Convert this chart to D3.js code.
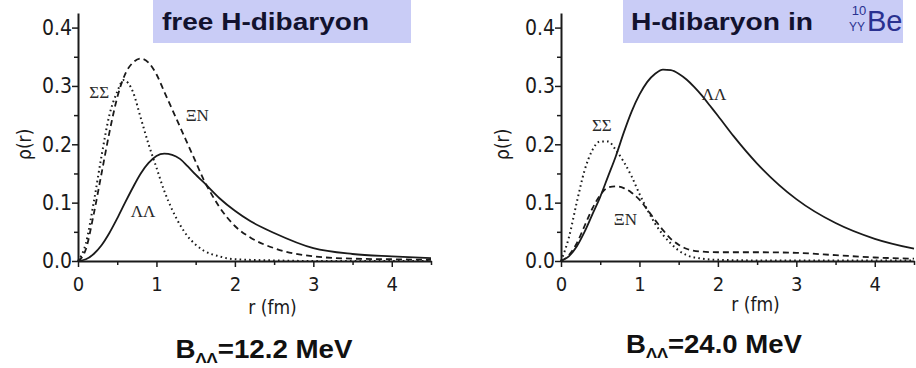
<!DOCTYPE html>
<html>
<head>
<meta charset="utf-8">
<script src="https://cdn.jsdelivr.net/npm/d3@7"></script>
<style>
  body { margin: 0; background: #fff; }
  svg { display: block; }
</style>
</head>
<body>
<svg id="chart" width="916" height="368"></svg>
<script>
// 두 패널 데이터
const xTicks = [0, 1, 2, 3, 4];
const yTicks = [0.0, 0.1, 0.2, 0.3, 0.4];

// free H-dibaryon
const freeSS_r = [0, 0.1, 0.2, 0.3, 0.4, 0.5, 0.58, 0.7, 0.8, 0.9, 1.0, 1.1, 1.2, 1.3, 1.4, 1.5, 1.6, 1.8, 2.0, 2.5, 3.0, 4.5];
const freeSS_v = [0, 0.03, 0.1, 0.18, 0.25, 0.29, 0.31, 0.29, 0.245, 0.2, 0.16, 0.12, 0.088, 0.062, 0.042, 0.028, 0.018, 0.008, 0.003, 0.001, 0, 0];
const freeXN_r = [0, 0.1, 0.2, 0.3, 0.4, 0.5, 0.6, 0.7, 0.8, 0.9, 1.0, 1.1, 1.2, 1.3, 1.4, 1.5, 1.6, 1.7, 1.8, 2.0, 2.2, 2.5, 3.0, 3.5, 4.0, 4.5];
const freeXN_v = [0, 0.02, 0.08, 0.15, 0.22, 0.28, 0.32, 0.34, 0.347, 0.34, 0.32, 0.29, 0.26, 0.23, 0.2, 0.17, 0.14, 0.115, 0.093, 0.06, 0.04, 0.022, 0.008, 0.004, 0.003, 0.002];
const freeLL_r = [0, 0.1, 0.2, 0.3, 0.4, 0.5, 0.6, 0.7, 0.8, 0.9, 1.0, 1.1, 1.2, 1.3, 1.4, 1.5, 1.6, 1.8, 2.0, 2.2, 2.5, 3.0, 3.5, 4.0, 4.5];
const freeLL_v = [0, 0.003, 0.012, 0.027, 0.048, 0.073, 0.1, 0.126, 0.15, 0.168, 0.18, 0.184, 0.182, 0.175, 0.162, 0.148, 0.135, 0.108, 0.086, 0.068, 0.048, 0.022, 0.012, 0.008, 0.005];

// H-dibaryon in 10Be
const beLL_r = [0, 0.1, 0.2, 0.3, 0.4, 0.5, 0.6, 0.7, 0.8, 0.9, 1.0, 1.1, 1.2, 1.3, 1.4, 1.5, 1.6, 1.7, 1.8, 1.9, 2.0, 2.2, 2.5, 3.0, 3.5, 4.0, 4.5];
const beLL_v = [0, 0.008, 0.025, 0.05, 0.08, 0.11, 0.145, 0.18, 0.22, 0.256, 0.285, 0.307, 0.321, 0.328, 0.327, 0.321, 0.311, 0.298, 0.283, 0.266, 0.249, 0.214, 0.167, 0.106, 0.065, 0.038, 0.021];
const beSS_r = [0, 0.1, 0.2, 0.3, 0.4, 0.5, 0.6, 0.7, 0.8, 0.9, 1.0, 1.1, 1.2, 1.3, 1.4, 1.5, 1.6, 1.8, 2.0, 2.5, 3.0, 4.5];
const beSS_v = [0, 0.04, 0.1, 0.155, 0.19, 0.205, 0.205, 0.19, 0.17, 0.145, 0.115, 0.088, 0.064, 0.045, 0.03, 0.018, 0.01, 0.004, 0.002, 0.001, 0.001, 0.001];
const beXN_r = [0, 0.1, 0.2, 0.3, 0.4, 0.5, 0.6, 0.7, 0.8, 0.9, 1.0, 1.1, 1.2, 1.3, 1.4, 1.5, 1.6, 1.8, 2.0, 2.5, 3.0, 3.5, 4.0, 4.5];
const beXN_v = [0, 0.01, 0.03, 0.06, 0.09, 0.113, 0.126, 0.128, 0.125, 0.117, 0.105, 0.088, 0.07, 0.053, 0.038, 0.028, 0.021, 0.016, 0.015, 0.015, 0.014, 0.01, 0.006, 0.004];

const zip = (rs, vs) => rs.map((r, i) => ({ r, v: vs[i] }));

const panels = [
	{
		left: 78, right: 431, bindLabel: '12.2', bind: { cx: 264, w: 177, y: 358 }, rhoDx: 47, rY: 314,
		series: [
			{ data: zip(freeSS_r, freeSS_v), dash: '1.6,3.2', width: 2 },
			{ data: zip(freeXN_r, freeXN_v), dash: '6,4', width: 1.8 },
			{ data: zip(freeLL_r, freeLL_v), dash: null, width: 1.8 }
		],
		labels: [
			{ text: 'ΣΣ', r: 0.27, v: 0.28 },
			{ text: 'ΞN', r: 1.52, v: 0.24 },
			{ text: 'ΛΛ', r: 0.83, v: 0.075 }
		]
	},
	{
		left: 561, right: 914, bindLabel: '24.0', bind: { cx: 714, w: 176, y: 353 }, rhoDx: 52, rY: 311,
		series: [
			{ data: zip(beSS_r, beSS_v), dash: '1.6,3.2', width: 2 },
			{ data: zip(beXN_r, beXN_v), dash: '6,4', width: 1.8 },
			{ data: zip(beLL_r, beLL_v), dash: null, width: 1.8 }
		],
		labels: [
			{ text: 'ΣΣ', r: 0.52, v: 0.222 },
			{ text: 'ΞN', r: 0.82, v: 0.062 },
			{ text: 'ΛΛ', r: 1.95, v: 0.276 }
		]
	}
];

const svg = d3.select('#chart');
const [yBottom, yTop] = [261, 13];
const tickFont = '"DejaVu Sans Condensed", "Liberation Sans Narrow", sans-serif';
const ink = '#1a1a1a';

panels.forEach(p => {
	const x = d3.scaleLinear([0, 4.5], [p.left, p.right]);
	const y = d3.scaleLinear([0, 0.425], [yBottom, yTop]);
	const g = svg.append('g');

	// 보조 눈금 (minor ticks)
	g.append('g')
		.attr('transform', `translate(0,${yBottom})`)
		.call(d3.axisBottom(x).tickValues(d3.range(0.5, 4.6, 1)).tickSize(4).tickFormat(''))
		.call(a => a.select('.domain').remove());
	g.append('g')
		.attr('transform', `translate(${p.left},0)`)
		.call(d3.axisLeft(y).tickValues([0.05, 0.15, 0.25, 0.35]).tickSize(4).tickFormat(''))
		.call(a => a.select('.domain').remove());

	// x 축
	g.append('g')
		.attr('transform', `translate(0,${yBottom})`)
		.call(d3.axisBottom(x).tickValues(xTicks).tickSize(6).tickSizeOuter(0).tickFormat(d3.format('d')))
		.call(a => a.selectAll('text').attr('font-size', 20).attr('y', 11).attr('dy', '0.95em').attr('font-family', tickFont));

	// y 축
	g.append('g')
		.attr('transform', `translate(${p.left},0)`)
		.call(d3.axisLeft(y).tickValues(yTicks).tickSize(6).tickSizeOuter(0).tickFormat(d3.format('.1f')))
		.call(a => a.selectAll('text').attr('font-size', 21).attr('x', -6).attr('font-family', tickFont));

	g.selectAll('.domain').attr('stroke-width', 2).attr('stroke', ink);
	g.selectAll('.tick line').attr('stroke-width', 1.5).attr('stroke', ink);
	g.selectAll('.tick text').attr('fill', ink);

	const line = d3.line().x(d => x(d.r)).y(d => y(d.v)).curve(d3.curveMonotoneX);
	p.series.forEach(s => {
		g.append('path')
			.attr('d', line(s.data))
			.attr('fill', 'none')
			.attr('stroke', ink)
			.attr('stroke-width', s.width)
			.attr('stroke-dasharray', s.dash);
	});

	g.selectAll('.curve-label')
		.data(p.labels)
		.join('text')
		.attr('x', d => x(d.r))
		.attr('y', d => y(d.v))
		.attr('text-anchor', 'middle')
		.attr('font-family', '"Liberation Serif", "DejaVu Serif", serif')
		.attr('font-size', 17)
		.attr('fill', '#2a2a2a')
		.text(d => d.text);

	// 축 제목
	g.append('text')
		.attr('transform', `translate(${p.left - p.rhoDx},${y(0.2)}) rotate(-90)`)
		.attr('text-anchor', 'middle')
		.attr('font-family', tickFont)
		.attr('font-size', 19)
		.attr('fill', ink)
		.text('ρ(r)');

	g.append('text')
		.attr('x', x(2.48))
		.attr('y', p.rY)
		.attr('text-anchor', 'middle')
		.attr('font-family', tickFont)
		.attr('font-size', 19)
		.attr('fill', ink)
		.text('r (fm)');

	const b = g.append('text')
		.attr('x', p.bind.cx - p.bind.w / 2)
		.attr('y', p.bind.y)
		.attr('textLength', p.bind.w)
		.attr('lengthAdjust', 'spacingAndGlyphs')
		.attr('font-family', '"Liberation Sans", Arial, sans-serif')
		.attr('font-weight', 'bold')
		.attr('font-size', 25)
		.attr('fill', '#111');
	b.append('tspan').text('B');
	b.append('tspan').attr('font-size', 15).attr('dy', 5).text('ΛΛ');
	b.append('tspan').attr('dy', -5).text(`=${p.bindLabel} MeV`);
});

// 제목 상자
svg.append('rect').attr('x', 153).attr('y', 0).attr('width', 258).attr('height', 43).attr('fill', '#c9ccf6');
svg.append('rect').attr('x', 623).attr('y', 0).attr('width', 280).attr('height', 43).attr('fill', '#c9ccf6');

svg.append('text')
	.attr('x', 162).attr('y', 30)
	.attr('textLength', 207)
	.attr('lengthAdjust', 'spacingAndGlyphs')
	.attr('font-family', '"Liberation Sans", Arial, sans-serif')
	.attr('font-weight', 'bold')
	.attr('font-size', 24)
	.attr('fill', '#12122e')
	.text('free H-dibaryon');

svg.append('text')
	.attr('x', 631).attr('y', 30)
	.attr('textLength', 182)
	.attr('lengthAdjust', 'spacingAndGlyphs')
	.attr('font-family', '"Liberation Sans", Arial, sans-serif')
	.attr('font-weight', 'bold')
	.attr('font-size', 24)
	.attr('fill', '#12122e')
	.text('H-dibaryon in');

const blue = '#2a3190';
svg.append('text').attr('x', 859).attr('y', 15).attr('text-anchor', 'middle')
	.attr('font-family', '"Liberation Sans", Arial, sans-serif').attr('font-size', 13).attr('fill', blue).text('10');
svg.append('text').attr('x', 857).attr('y', 31).attr('text-anchor', 'middle')
	.attr('font-family', '"Liberation Sans", Arial, sans-serif').attr('font-size', 12).attr('fill', blue).text('YY');
svg.append('text').attr('x', 867).attr('y', 31)
	.attr('font-family', '"Liberation Sans", Arial, sans-serif').attr('font-size', 29).attr('fill', blue).text('Be');
</script>
</body>
</html>
